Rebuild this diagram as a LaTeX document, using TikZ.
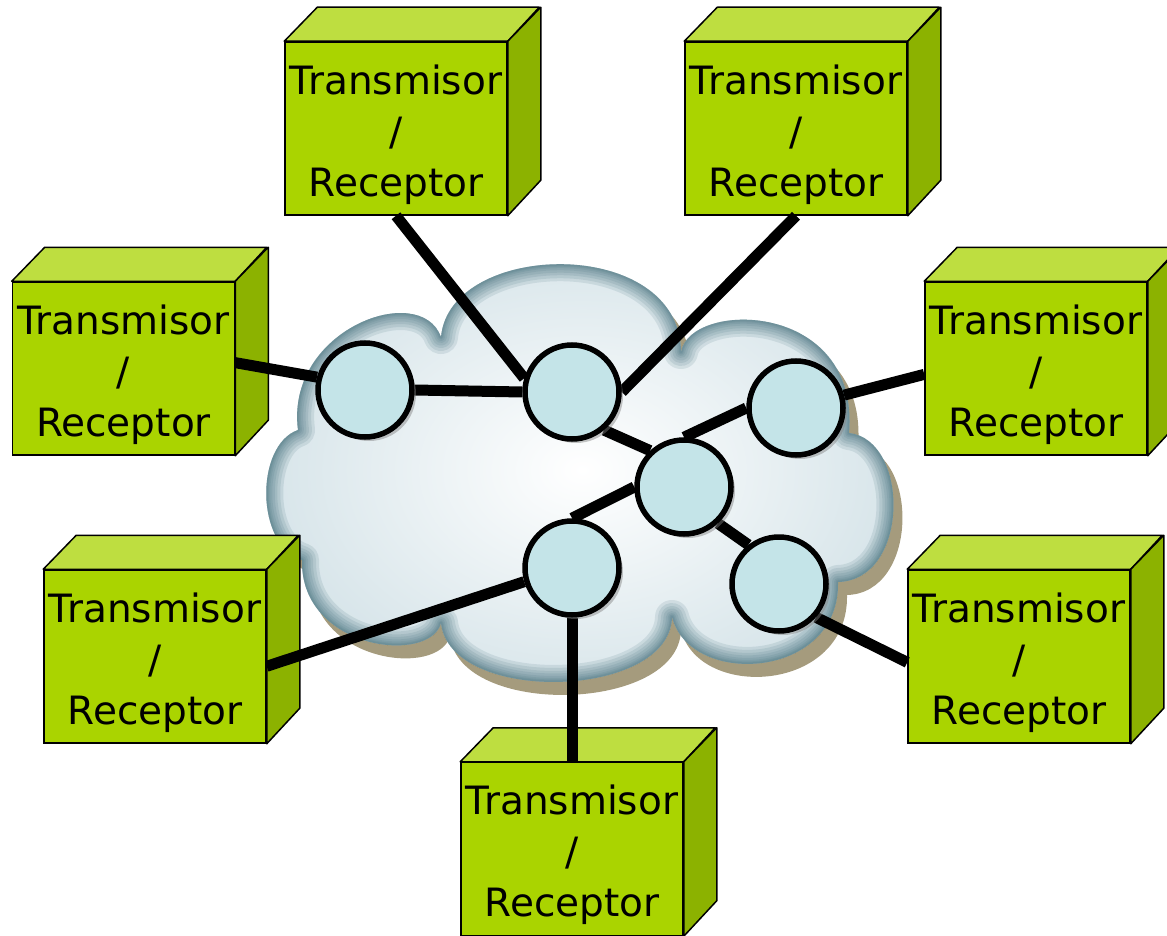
\documentclass[tikz,border=0pt]{standalone}
\usepackage{fontspec}
\setmainfont{DejaVu Sans}
\usetikzlibrary{positioning,shadows}
\definecolor{boxfront}{RGB}{170,212,0}
\definecolor{boxtop}{RGB}{190,222,64}
\definecolor{boxside}{RGB}{140,178,0}
\definecolor{routerfill}{RGB}{196,228,232}
\definecolor{cloudrim}{RGB}{60,105,118}
\definecolor{cloudedge}{RGB}{214,228,233}
\definecolor{cloudshadow}{RGB}{165,155,125}
\pgfdeclarelayer{cloudlayer}
\pgfdeclarelayer{front}
\pgfsetlayers{cloudlayer,main,front}
\tikzset{
  device/.style={rectangle, draw=black, line width=1.5pt, fill=boxfront,
                 minimum width=222pt, minimum height=173pt, inner sep=0pt},
  devtext/.style={align=center, font=\fontsize{39}{51}\selectfont, inner sep=0pt, yshift=-6pt},
  devtop/.style={draw=black, line width=1.5pt, fill=boxtop, line join=round},
  devside/.style={draw=black, line width=1.5pt, fill=boxside, line join=round},
  router/.style={circle, draw=black, line width=5.5pt, fill=routerfill,
                 minimum size=94pt, inner sep=0pt,
                 drop shadow={shadow xshift=4pt, shadow yshift=-4pt, opacity=0.45}},
  link/.style={line width=11pt, black}
}
\newcommand{\devfaces}[1]{%
  \filldraw[devtop] (#1.north west) -- ++(33,-34) -- ++(222,0) -- (#1.north east) -- cycle;
  \filldraw[devside] (#1.north east) -- ++(33,-34) -- ++(0,173) -- (#1.south east) -- cycle;
}
\newcommand{\cloudpath}{(302,560) .. controls (255,545) and (255,445) .. (298,430)
  .. controls (285,330) and (420,280) .. (441,337)
  .. controls (450,240) and (680,235) .. (681,352)
  .. controls (690,300) and (860,300) .. (849,433)
  .. controls (910,440) and (910,580) .. (838,582)
  .. controls (840,680) and (690,688) .. (672,617)
  .. controls (670,700) and (450,705) .. (441,623)
  .. controls (430,665) and (300,650) .. (302,560) -- cycle}

\begin{document}
\begin{tikzpicture}[x=1pt,y=-1pt]
\useasboundingbox (0,0) rectangle (1167,936);

% the cloud
\begin{pgfonlayer}{cloudlayer}
  \fill[cloudshadow, shift={(9,13)}] \cloudpath;
  \begin{scope}
    \clip \cloudpath;
    \shade[inner color=white, outer color=cloudedge] \cloudpath;
    \foreach \w in {34,28,22,17,12,8,5,3}
      \draw[cloudrim, line width=\w pt, line join=round, opacity=0.13] \cloudpath;
  \end{scope}
\end{pgfonlayer}

% routers
\begin{pgfonlayer}{front}
\node[router] (A) at (365,390) {};
\node[router] (B) at (572,392) {};
\node[router] (C) at (796,408) {};
\node[router] (D) at (684,487) {};
\node[router] (E) at (572,568) {};
\node[router] (F) at (779,584) {};
\end{pgfonlayer}

% stations
\node[device, label={[devtext]center:Transmisor\\/\\Receptor}] (tx1) at (396,128.5) {};
\node[device, label={[devtext]center:Transmisor\\/\\Receptor}] (tx2) at (796,128.5) {};
\node[device, label={[devtext]center:Transmisor\\/\\Receptor}] (tx3) at (123.5,368.5) {};
\node[device, label={[devtext]center:Transmisor\\/\\Receptor}] (tx4) at (1036,368.5) {};
\node[device, label={[devtext]center:Transmisor\\/\\Receptor}] (tx5) at (155,656.5) {};
\node[device, label={[devtext]center:Transmisor\\/\\Receptor}] (tx6) at (1019,656.5) {};
\node[device, label={[devtext]center:Transmisor\\/\\Receptor}] (tx7) at (572,849) {};
\foreach \i in {1,...,7} {\devfaces{tx\i}}

% links
\draw[link] (tx1.south) -- (B.164);
\draw[link] (tx2.south) -- (B.east);
\draw[link] (tx3.3) -- (A.165);
\draw[link] (A.east) -- (B.west);
\draw[link] (B.-50) -- (D.133);
\draw[link] (C.west) -- (D.north);
\draw[link] (D.west) -- (E.north);
\draw[link] (D.-47) -- (F.128);
\draw[link] (C.15) -- (tx4.183);
\draw[link] (E.196) -- (tx5.-5);
\draw[link] (E.south) -- (tx7.north);
\draw[link] (F.-42) -- (tx6.183);
\end{tikzpicture}
\end{document}
